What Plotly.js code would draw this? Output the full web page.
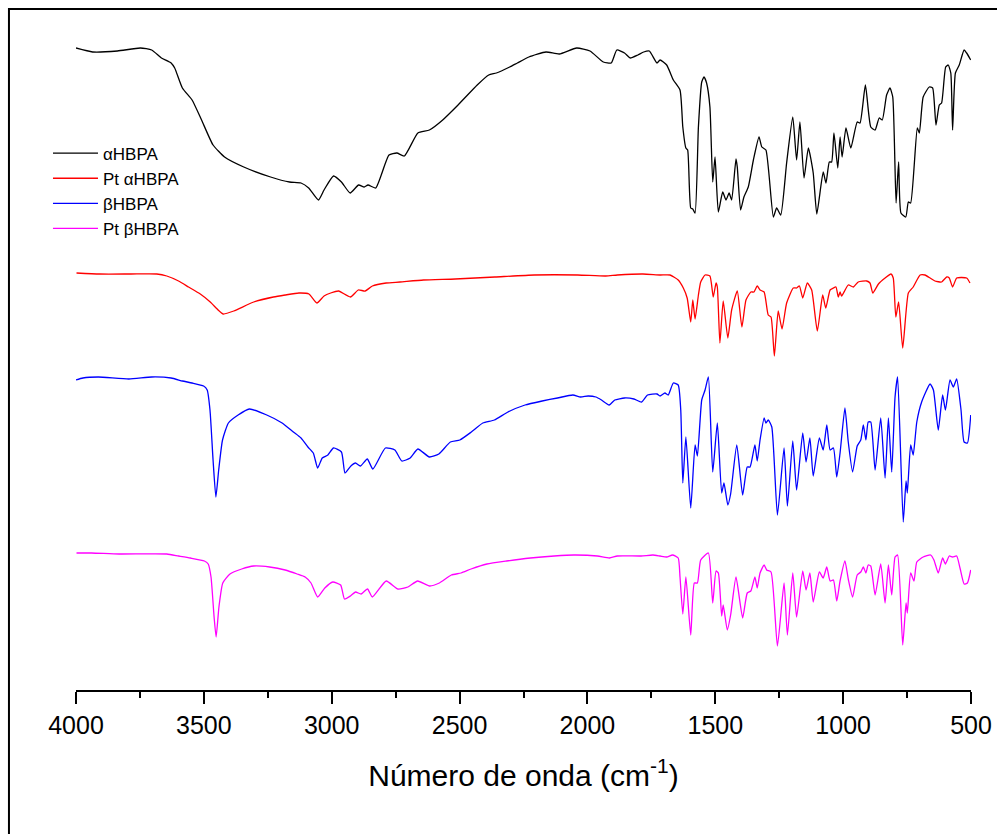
<!DOCTYPE html>
<html>
<head>
<meta charset="utf-8">
<script src="https://cdn.plot.ly/plotly-3.0.1.min.js"></script>
<style>html,body{margin:0;padding:0;background:#fff;}#chart{width:997px;height:834px;}</style>
</head>
<body>
<div id="chart"></div>
<script>
// Wavenumber tick labels
const tickValues = [4000, 3500, 3000, 2500, 2000, 1500, 1000, 500];

// αHBPA (offset transmittance, arbitrary units)
const alphaW = [4000,3935,3838,3748,3704,3666,3628,3614,3584,3546,3509,3464,3419,3344,3239,3165,3120,3090,3052,3030,2993,2962,2928,2895,2873,2858,2828,2776,2745,2716,2663,2618,2566,2506,2431,2386,2356,2304,2274,2229,2162,2110,2042,1990,1938,1907,1885,1855,1833,1803,1780,1758,1728,1716,1690,1664,1638,1627,1615,1608,1596,1588,1579,1566,1553,1544,1534,1521,1510,1501,1488,1471,1458,1446,1436,1419,1414,1401,1388,1371,1351,1329,1318,1302,1273,1260,1244,1221,1197,1182,1169,1153,1136,1117,1103,1078,1067,1054,1045,1036,1021,1012,1004,989,970,945,934,913,892,875,859,847,830,817,806,793,783,774,755,745,736,710,702,687,663,650,637,624,615,599,589,579,572,561,546,527,517,501];
const alphaT = [642,638,639,642,640,632,627,622,602,590,570,545,533,523,513,508,507,502,490,500,514,508,497,505,503,505,502,535,537,534,557,560,570,585,605,615,617,623,627,633,638,636,642,639,628,627,640,637,632,635,638,639,627,630,625,610,600,563,542,540,482,481,477,563,608,613,607,583,508,533,478,498,490,497,490,531,523,480,493,503,530,553,543,540,473,482,475,527,573,530,568,512,542,517,476,518,507,528,528,557,522,553,533,562,542,568,567,605,563,560,572,570,595,602,593,487,528,477,473,488,487,562,557,593,603,602,565,585,587,623,625,617,560,617,625,640,637,630];

// Pt αHBPA
const ptAlphaW = [3998,3908,3785,3684,3645,3599,3560,3514,3475,3444,3424,3383,3305,3228,3182,3128,3089,3058,3030,3004,2973,2927,2896,2869,2841,2787,2733,2641,2517,2362,2208,2038,1929,1883,1783,1716,1677,1645,1625,1610,1596,1588,1579,1566,1557,1540,1521,1508,1497,1492,1482,1469,1451,1436,1414,1396,1380,1361,1349,1336,1325,1309,1293,1282,1269,1254,1239,1221,1195,1182,1171,1158,1140,1123,1101,1080,1068,1051,1038,1028,1019,1012,1006,980,960,941,908,895,884,862,836,813,804,794,783,767,745,726,699,680,660,641,615,595,585,572,556,517,504];
const ptAlphaT = [417,416,416,416,414,409,403,396,388,380,376,379,388,393,395,397,396,387,394,397,399,393,400,399,404,407,408,410,411,413,415,415,414,415,416,415,415,410,402,392,368,390,371,395,408,415,414,393,407,403,347,389,352,380,399,363,390,398,398,404,400,398,375,373,334,379,361,387,402,402,404,392,407,400,359,395,382,400,402,403,393,398,394,405,403,408,409,407,397,406,412,416,412,373,388,342,397,403,415,415,412,409,408,413,412,403,412,412,407];

// βHBPA
const betaW = [4000,3973,3913,3793,3704,3628,3584,3546,3501,3487,3476,3464,3453,3442,3427,3404,3366,3322,3254,3194,3150,3120,3093,3072,3055,3037,3015,2993,2962,2948,2925,2907,2888,2861,2839,2790,2753,2726,2693,2663,2618,2581,2536,2499,2454,2409,2364,2311,2244,2177,2117,2057,2027,1997,1967,1945,1915,1893,1855,1818,1788,1765,1728,1716,1697,1684,1664,1645,1635,1627,1615,1596,1579,1570,1553,1540,1527,1510,1492,1475,1466,1451,1440,1416,1393,1375,1364,1345,1336,1325,1309,1302,1293,1279,1257,1231,1218,1197,1182,1158,1145,1130,1117,1093,1078,1064,1051,1038,1025,1012,993,980,963,945,931,921,911,902,892,875,853,836,823,810,797,787,765,754,749,736,726,712,693,660,647,628,611,600,582,569,556,539,527,514,501];
const betaT = [310,312,313,311,313,312,309,307,304,300,280,230,193,220,250,267,275,281,275,267,258,252,243,237,222,232,235,242,238,217,224,227,224,231,221,242,240,229,232,241,233,236,248,250,258,267,270,278,285,289,292,295,293,294,293,290,285,290,292,291,288,295,296,294,297,295,307,305,280,207,253,182,245,234,290,300,313,218,267,197,207,185,196,245,195,223,223,245,229,250,272,267,270,263,175,242,184,249,200,257,228,252,214,252,240,265,240,242,213,237,282,248,218,244,250,265,250,268,268,220,272,212,272,218,293,313,168,209,197,245,235,268,288,306,300,260,295,280,310,303,311,280,248,247,275];

// Pt βHBPA
const ptBetaW = [3998,3939,3831,3645,3599,3553,3498,3483,3472,3460,3452,3441,3426,3398,3352,3305,3243,3182,3135,3104,3081,3055,3027,2996,2965,2950,2927,2907,2885,2860,2841,2787,2741,2702,2664,2617,2579,2532,2494,2455,2393,2316,2223,2130,2053,1961,1914,1883,1790,1744,1716,1690,1667,1645,1638,1627,1615,1596,1582,1570,1557,1527,1510,1497,1488,1475,1469,1453,1440,1419,1393,1375,1361,1345,1336,1325,1309,1299,1282,1257,1231,1218,1197,1182,1158,1145,1130,1117,1093,1078,1064,1051,1038,1025,1012,993,980,963,945,931,921,911,902,892,875,853,836,823,810,797,787,767,754,749,736,723,712,687,658,645,628,611,600,585,572,556,543,527,514,501];
const ptBetaT = [137,137,136,136,134,132,129,126,113,73,53,83,107,116,121,124,123,120,116,113,107,93,102,108,105,91,94,98,96,101,93,109,101,103,109,104,107,115,117,121,126,129,132,134,135,134,132,134,134,135,134,133,135,132,113,76,113,55,107,107,130,137,87,119,117,74,85,60,75,113,72,97,99,113,102,117,125,120,118,44,107,55,117,73,119,100,117,88,118,112,123,109,110,89,109,129,111,93,115,118,123,117,125,124,95,126,87,125,95,133,135,45,87,77,117,109,128,133,135,130,117,132,126,134,133,134,122,106,107,120];

const seriesNames = ['αHBPA', 'Pt αHBPA', 'βHBPA', 'Pt βHBPA'];
const seriesColors = ['#000000', '#ff0000', '#0000ff', '#ff00ff'];
const seriesX = [alphaW, ptAlphaW, betaW, ptBetaW];
const seriesY = [alphaT, ptAlphaT, betaT, ptBetaT];

const FONT = 'Liberation Sans, Arial, Helvetica, sans-serif';

const traces = seriesNames.map((n, i) => ({
  type: 'scatter', mode: 'lines', name: n,
  x: seriesX[i], y: seriesY[i],
  line: {color: seriesColors[i], width: 1.3, shape: 'spline', smoothing: 0.5}
}));

const layout = {
  width: 997, height: 834,
  margin: {l: 76, r: 26, t: 20, b: 144},
  paper_bgcolor: '#ffffff', plot_bgcolor: '#ffffff',
  showlegend: true,
  font: {family: FONT, color: '#000'},
  xaxis: {
    range: [4000, 500], tickvals: tickValues, ticktext: tickValues.map(String),
    ticks: 'outside', ticklen: 12, tickwidth: 2, tickcolor: '#000',
    showline: true, linewidth: 2, linecolor: '#000',
    showgrid: false, zeroline: false,
    tickfont: {size: 25, family: FONT, color: '#000'},
    minor: {ticks: 'outside', ticklen: 6, tickwidth: 2, tickcolor: '#000', dtick: 250, tick0: 500, showgrid: false},
    title: {text: 'Número de onda (cm<sup>-1</sup>)', font: {size: 30, family: FONT, color: '#000'}, standoff: 27},
    automargin: false, fixedrange: true
  },
  yaxis: {visible: false, range: [0, 670], fixedrange: true},
  legend: {
    x: -0.0313, y: 0.8275, xanchor: 'left', yanchor: 'top',
    bgcolor: 'rgba(0,0,0,0)', borderwidth: 0,
    font: {size: 17, family: FONT, color: '#000'},
    itemwidth: 45, tracegroupgap: 0
  },
  shapes: [{
    type: 'rect', xref: 'paper', yref: 'paper',
    x0: -0.0749, x1: 1.05, y0: -0.25, y1: 1.0164,
    line: {color: '#000', width: 2}, fillcolor: 'rgba(0,0,0,0)', layer: 'above'
  }]
};

Plotly.newPlot('chart', traces, layout, {displayModeBar: false, staticPlot: true});
</script>
</body>
</html>
